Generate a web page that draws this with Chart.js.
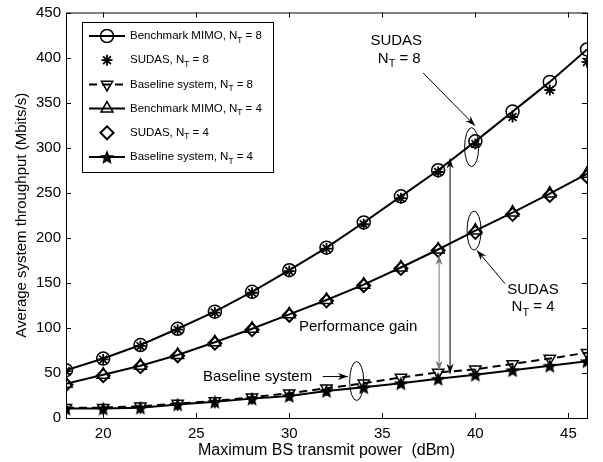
<!DOCTYPE html>
<html>
<head>
<meta charset="utf-8">
<script src="https://cdn.jsdelivr.net/npm/chart.js@4/dist/chart.umd.min.js"></script>
<style>
  html, body { margin: 0; padding: 0; background: #fff; }
  #wrap { width: 603px; height: 462px; }
</style>
</head>
<body>
<div id="wrap"><canvas id="chart" width="603" height="462"></canvas></div>
<script>
// transmit power (dBm) and average throughput (Mbits/s)
var POWER_DBM = [18, 20, 22, 24, 26, 28, 30, 32, 34, 36, 38, 40, 42, 44, 46];
var BENCH_NT8 = [53, 66, 81, 99, 118, 140, 164, 189, 217, 246, 275, 307, 340, 373, 409];
var SUDAS_NT8 = [52, 65, 80, 98, 117, 139, 163, 188, 215, 244, 273, 304, 334, 364, 395];
var BASE_NT8 = [11.5, 11.5, 13, 16, 19, 23, 27.5, 33, 38.5, 45, 50.5, 54, 60, 66, 72.5];
var BENCH_NT4 = [38, 48, 58, 70, 84, 99, 115, 131, 148, 167, 187, 208, 228, 249, 271];
var SUDAS_NT4 = [37, 47, 57, 69, 83, 98, 114, 130, 147, 166, 186, 206, 226, 247, 268];
var BASE_NT4 = [10.5, 10.5, 11.5, 15, 18, 21.5, 24.5, 30, 34, 38.5, 43.5, 48, 53, 58, 63];

var X_TICKS = [20, 25, 30, 35, 40, 45];
var X_MIN = 18, X_MAX = 46;
var Y_MIN = 0, Y_MAX = 450, Y_STEP = 50;

var FONT = '"Liberation Sans", Arial, Helvetica, sans-serif';
Chart.defaults.color = "#000";
Chart.defaults.font.family = FONT;

/** filled 5-point star, like the matlab pentagram marker */
function makePentagram(size) {
  var cv = document.createElement("canvas");
  cv.width = size;
  cv.height = size;
  var g = cv.getContext("2d");
  var cx = size / 2, cy = size / 2 + 0.8, R = size / 2 - 0.3, r = R * 0.45;
  g.beginPath();
  for (var i = 0; i < 10; i++) {
    var a = -Math.PI / 2 + (i * Math.PI) / 5;
    var rr = i % 2 ? r : R;
    g.lineTo(cx + rr * Math.cos(a), cy + rr * Math.sin(a));
  }
  g.closePath();
  g.fillStyle = "#000";
  g.fill();
  return cv;
}
var PENTAGRAM = makePentagram(16);

function series(ys) {
  return POWER_DBM.map(function (x, i) {
    return { x: x, y: ys[i] };
  });
}

function line(label, ys, extra) {
  var ds = {
    label: label,
    data: series(ys),
    borderColor: "#000",
    backgroundColor: "rgba(0,0,0,0)",
    pointBorderColor: "#000",
    pointBackgroundColor: "rgba(0,0,0,0)",
    borderWidth: 2,
    pointBorderWidth: 1.5,
    pointRadius: 6,
    tension: 0,
  };
  for (var k in extra) ds[k] = extra[k];
  return ds;
}

var datasets = [
  line("Benchmark MIMO, N_T = 8", BENCH_NT8, { pointStyle: "circle", pointRadius: 6.5 }),
  line("SUDAS, N_T = 8", SUDAS_NT8, { showLine: false, pointStyle: "star", pointRadius: 5.5, pointBorderWidth: 1.8 }),
  line("Baseline system, N_T = 8", BASE_NT8, { borderDash: [8, 5], pointStyle: "triangle", pointRotation: 180, pointRadius: 6.5 }),
  line("Benchmark MIMO, N_T = 4", BENCH_NT4, { pointStyle: "triangle", pointRadius: 7 }),
  line("SUDAS, N_T = 4", SUDAS_NT4, { showLine: false, pointStyle: "rectRot", pointRadius: 6.5, pointBorderWidth: 2 }),
  line("Baseline system, N_T = 4", BASE_NT4, { pointStyle: PENTAGRAM }),
];

/** text with subscript pieces: parts = [["N"], ["T", true], [" = 8"]] */
function richWidth(ctx, parts, size) {
  var w = 0;
  parts.forEach(function (p) {
    ctx.font = (p[1] ? size * 0.72 : size) + "px " + FONT;
    w += ctx.measureText(p[0]).width;
  });
  return w;
}
function drawRich(ctx, parts, x, y, size, align) {
  var w = richWidth(ctx, parts, size);
  var cx = align === "center" ? x - w / 2 : x;
  ctx.textAlign = "left";
  ctx.textBaseline = "middle";
  parts.forEach(function (p) {
    ctx.font = (p[1] ? size * 0.72 : size) + "px " + FONT;
    ctx.fillText(p[0], cx, p[1] ? y + size * 0.38 : y);
    cx += ctx.measureText(p[0]).width;
  });
}

function arrowHead(ctx, x1, y1, x2, y2, len, wid) {
  var a = Math.atan2(y2 - y1, x2 - x1);
  var c = Math.cos(a), s = Math.sin(a);
  ctx.beginPath();
  ctx.moveTo(x2, y2);
  ctx.lineTo(x2 - len * c + wid * s, y2 - len * s - wid * c);
  ctx.lineTo(x2 - len * 0.7 * c, y2 - len * 0.7 * s);
  ctx.lineTo(x2 - len * c - wid * s, y2 - len * s + wid * c);
  ctx.closePath();
  ctx.fill();
}

function arrow(ctx, p1, p2, both) {
  ctx.beginPath();
  ctx.moveTo(p1.x, p1.y);
  ctx.lineTo(p2.x, p2.y);
  ctx.stroke();
  arrowHead(ctx, p1.x, p1.y, p2.x, p2.y, 10, 3.5);
  if (both) arrowHead(ctx, p2.x, p2.y, p1.x, p1.y, 10, 3.5);
}

/** matlab style box with inward ticks */
var frameTicks = {
  id: "frameTicks",
  afterDraw: function (chart) {
    var ctx = chart.ctx, a = chart.chartArea;
    var xs = chart.scales.x, ys = chart.scales.y;
    ctx.save();
    ctx.strokeStyle = "#000";
    ctx.lineWidth = 1;
    ctx.strokeRect(a.left + 0.5, a.top + 0.5, a.right - a.left, a.bottom - a.top);
    ctx.beginPath();
    X_TICKS.forEach(function (v) {
      var x = Math.round(xs.getPixelForValue(v)) + 0.5;
      ctx.moveTo(x, a.bottom);
      ctx.lineTo(x, a.bottom - 5);
      ctx.moveTo(x, a.top);
      ctx.lineTo(x, a.top + 5);
    });
    for (var v = Y_MIN; v <= Y_MAX; v += Y_STEP) {
      var y = Math.round(ys.getPixelForValue(v)) + 0.5;
      ctx.moveTo(a.left, y);
      ctx.lineTo(a.left + 5, y);
      ctx.moveTo(a.right, y);
      ctx.lineTo(a.right - 5, y);
    }
    ctx.stroke();
    ctx.restore();
  },
};

/** ellipses, arrows and text notes */
var notes = {
  id: "notes",
  afterDatasetsDraw: function (chart) {
    var ctx = chart.ctx;
    var xs = chart.scales.x, ys = chart.scales.y;
    function P(x, y) {
      return { x: xs.getPixelForValue(x), y: ys.getPixelForValue(y) };
    }
    ctx.save();
    ctx.strokeStyle = "#000";
    ctx.fillStyle = "#000";
    ctx.lineWidth = 1;

    [[39.8, 300.6], [39.93, 208], [33.62, 41]].forEach(function (e) {
      var c = P(e[0], e[1]);
      ctx.beginPath();
      ctx.ellipse(c.x, c.y, 7, 19.5, 0, 0, Math.PI * 2);
      ctx.stroke();
    });

    arrow(ctx, P(37.19, 383), P(39.98, 324.4));
    arrow(ctx, P(41.6, 149), P(40.09, 186));
    arrow(ctx, P(31.8, 46), P(33.15, 46));

    arrow(ctx, P(38.64, 49), P(38.64, 288), true);
    ctx.strokeStyle = "#777";
    ctx.fillStyle = "#777";
    arrow(ctx, P(38.05, 52.5), P(38.05, 181), true);
    ctx.fillStyle = "#000";

    var t8 = P(35.75, 419), t4 = P(43.1, 142);
    drawRich(ctx, [["SUDAS"]], t8.x, t8.y, 15, "center");
    drawRich(ctx, [["N"], ["T", true], [" = 8"]], t8.x + 3, t8.y + 18, 15, "center");
    drawRich(ctx, [["SUDAS"]], t4.x, t4.y, 15, "center");
    drawRich(ctx, [["N"], ["T", true], [" = 4"]], t4.x, t4.y + 17, 15, "center");

    var pg = P(30.52, 100.7);
    drawRich(ctx, [["Performance gain"]], pg.x, pg.y, 15, "left");
    var bs = P(25.36, 46);
    drawRich(ctx, [["Baseline system"]], bs.x, bs.y, 15, "left");
    ctx.restore();
  },
};

var LEGEND_TEXT = [
  [["Benchmark MIMO, N"], ["T", true], [" = 8"]],
  [["SUDAS, N"], ["T", true], [" = 8"]],
  [["Baseline system, N"], ["T", true], [" = 8"]],
  [["Benchmark MIMO, N"], ["T", true], [" = 4"]],
  [["SUDAS, N"], ["T", true], [" = 4"]],
  [["Baseline system, N"], ["T", true], [" = 4"]],
];

var boxLegend = {
  id: "boxLegend",
  afterDraw: function (chart) {
    var ctx = chart.ctx;
    var left = 82, top = 22, w = 191, h = 150;
    ctx.save();
    ctx.fillStyle = "#fff";
    ctx.fillRect(left, top, w, h);
    ctx.strokeStyle = "#000";
    ctx.lineWidth = 1;
    ctx.strokeRect(left + 0.5, top + 0.5, w, h);
    chart.data.datasets.forEach(function (ds, i) {
      var y = top + 14 + i * 24.2;
      if (ds.showLine !== false) {
        ctx.save();
        ctx.lineWidth = ds.borderWidth;
        ctx.setLineDash(ds.borderDash || []);
        ctx.beginPath();
        ctx.moveTo(89, y);
        ctx.lineTo(125, y);
        ctx.stroke();
        ctx.restore();
      }
      ctx.save();
      ctx.strokeStyle = "#000";
      ctx.fillStyle = "rgba(0,0,0,0)";
      ctx.lineWidth = ds.pointBorderWidth;
      Chart.helpers.drawPoint(ctx, {
        pointStyle: ds.pointStyle,
        rotation: ds.pointRotation || 0,
        radius: ds.pointRadius,
        borderWidth: ds.pointBorderWidth,
      }, 107, y);
      ctx.restore();
      ctx.fillStyle = "#000";
      drawRich(ctx, LEGEND_TEXT[i], 130, y, 11.5, "left");
    });
    ctx.restore();
  },
};

new Chart(document.getElementById("chart"), {
  type: "line",
  data: { datasets: datasets },
  plugins: [notes, frameTicks, boxLegend],
  options: {
    responsive: false,
    animation: false,
    layout: { padding: { left: 0, top: 7, right: 16, bottom: 0 } },
    plugins: {
      legend: { display: false },
      tooltip: { enabled: false },
    },
    scales: {
      x: {
        type: "linear",
        min: X_MIN,
        max: X_MAX,
        afterBuildTicks: function (s) {
          s.ticks = X_TICKS.map(function (v) {
            return { value: v };
          });
        },
        afterFit: function (s) {
          s.height = 44;
        },
        grid: { display: false, drawTicks: false },
        border: { display: false },
        ticks: { padding: 8, font: { size: 15, lineHeight: 1 }, maxRotation: 0 },
        title: {
          display: true,
          text: "Maximum BS transmit power  (dBm)",
          font: { size: 16 },
          padding: { top: 0, bottom: 2 },
        },
      },
      y: {
        min: Y_MIN,
        max: Y_MAX,
        afterFit: function (s) {
          s.width = 66;
        },
        grid: { display: false, drawTicks: false },
        border: { display: false },
        ticks: { stepSize: Y_STEP, padding: 5, font: { size: 15, lineHeight: 1 } },
        title: {
          display: true,
          text: "Average system throughput (Mbits/s)",
          font: { size: 15 },
          padding: { top: 13, bottom: 0 },
        },
      },
    },
  },
});
</script>
</body>
</html>
